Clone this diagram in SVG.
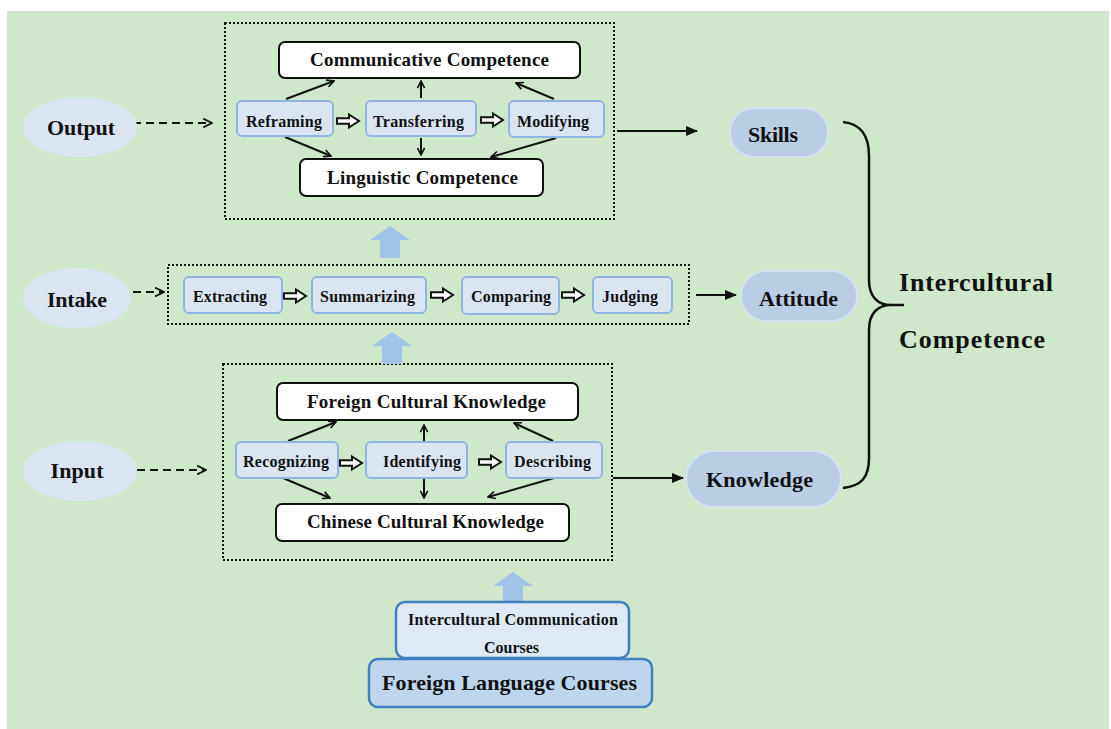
<svg xmlns="http://www.w3.org/2000/svg" width="1111" height="729" viewBox="0 0 1111 729">
<style>
text{font-family:"Liberation Serif","Times New Roman",serif;font-weight:bold;fill:#111;text-anchor:middle}
.dot{fill:none;stroke:#111;stroke-width:2;stroke-dasharray:2 2}
.comp{fill:#fff;stroke:#111;stroke-width:2}
.step{fill:#dbe5f2;stroke:#8fb5e3;stroke-width:2}
.pill{fill:#b9cde5;stroke:#d6e2f1;stroke-width:2}
.ell{fill:#dbe5f1}
.ln{stroke:#111;stroke-width:2;fill:none}
.dash{stroke:#111;stroke-width:2;fill:none;stroke-dasharray:8 5}
.big{fill:#9fc4e8}
.s15{font-size:16px}
.s18{font-size:19px}
.s21{font-size:22px}
</style>
<defs>
<marker id="tri" viewBox="0 0 12 10" refX="11" refY="5" markerWidth="12" markerHeight="10" markerUnits="userSpaceOnUse" orient="auto"><path d="M0,0 L12,5 L0,10 z" fill="#111"/></marker>
<marker id="chev" viewBox="0 0 10 10" refX="9" refY="5" markerWidth="9" markerHeight="9" markerUnits="userSpaceOnUse" orient="auto"><path d="M1,1 L9,5 L1,9" fill="none" stroke="#111" stroke-width="1.8"/></marker>
<marker id="chevL" viewBox="0 0 10 10" refX="9" refY="5" markerWidth="11" markerHeight="11" markerUnits="userSpaceOnUse" orient="auto"><path d="M1,1 L9,5 L1,9" fill="none" stroke="#111" stroke-width="1.6"/></marker>
<path id="ha" d="M0,-2.8 H12 V-6.5 L22,0 L12,6.5 V2.8 H0 Z" fill="#fff" stroke="#111" stroke-width="2"/>
<path id="up" d="M0,0 L20,14 L10,14 L10,32 L-10,32 L-10,14 L-20,14 Z"/>
</defs>

<rect x="0" y="0" width="1111" height="729" fill="#fff"/>
<rect x="7" y="11" width="1102" height="718" fill="#cfe7cb"/>

<g id="group-output">
<rect class="dot" x="225" y="23" width="389" height="196"/>
</g>
<g id="group-intake">
<rect class="dot" x="168" y="265" width="521" height="59"/>
</g>
<g id="group-input">
<rect class="dot" x="223" y="364" width="389" height="196"/>
</g>

<g id="connectors">
<path class="dash" d="M133,123 H212" marker-end="url(#chevL)"/>
<path class="dash" d="M133,292 H164" marker-end="url(#chevL)"/>
<path class="dash" d="M137,470 H206" marker-end="url(#chevL)"/>
<path class="ln" d="M286,99 L334,81" marker-end="url(#chev)"/>
<path class="ln" d="M285,137 L331,156" marker-end="url(#chev)"/>
<path class="ln" d="M421,98 L421,81" marker-end="url(#chev)"/>
<path class="ln" d="M421,138 L421,155" marker-end="url(#chev)"/>
<path class="ln" d="M554,99 L516,83" marker-end="url(#chev)"/>
<path class="ln" d="M556,138 L491,157" marker-end="url(#chev)"/>
<path class="ln" d="M288,441 L336,422" marker-end="url(#chev)"/>
<path class="ln" d="M283,478 L330,498" marker-end="url(#chev)"/>
<path class="ln" d="M424,442 L424,425" marker-end="url(#chev)"/>
<path class="ln" d="M424,479 L424,498" marker-end="url(#chev)"/>
<path class="ln" d="M553,441 L514,423" marker-end="url(#chev)"/>
<path class="ln" d="M554,478 L488,497" marker-end="url(#chev)"/>
<path class="ln" d="M617,131 H697" marker-end="url(#tri)"/>
<path class="ln" d="M696,295 H736" marker-end="url(#tri)"/>
<path class="ln" d="M613,478 H683" marker-end="url(#tri)"/>
<use href="#ha" x="337" y="121"/>
<use href="#ha" x="481" y="120"/>
<use href="#ha" x="284" y="296"/>
<use href="#ha" x="431" y="295"/>
<use href="#ha" x="562" y="295"/>
<use href="#ha" x="340" y="463"/>
<use href="#ha" x="479" y="462"/>
<use href="#up" class="big" x="390" y="226"/>
<use href="#up" class="big" x="392" y="332"/>
<use href="#up" class="big" x="513" y="572"/>
<path d="M843,122 C861,124 869,135 869,156 L869,280 C869,297 878,305 891,305 L904,305 M891,305 C878,305 869,313 869,330 L869,458 C869,478 861,486 843,488" fill="none" stroke="#111" stroke-width="2.5"/>
</g>

<g id="node-output"><ellipse class="ell" cx="80" cy="127" rx="57" ry="30"/><text class="s21" x="81" y="135" textLength="68" lengthAdjust="spacing">Output</text></g>
<g id="node-intake"><ellipse class="ell" cx="77" cy="298" rx="54" ry="30"/><text class="s21" x="77" y="307" textLength="60" lengthAdjust="spacing">Intake</text></g>
<g id="node-input"><ellipse class="ell" cx="80" cy="471" rx="57" ry="30"/><text class="s21" x="77" y="478" textLength="53" lengthAdjust="spacing">Input</text></g>

<g id="node-communicative"><rect class="comp" x="279" y="42" width="301" height="36" rx="6"/><text class="s18" x="429.5" y="66" textLength="239" lengthAdjust="spacing">Communicative Competence</text></g>
<g id="node-linguistic"><rect class="comp" x="300" y="159" width="243" height="37" rx="6"/><text class="s18" x="422.5" y="184" textLength="191" lengthAdjust="spacing">Linguistic Competence</text></g>
<g id="node-reframing"><rect class="step" x="237" y="101" width="96" height="35" rx="5"/><text class="s15" x="284" y="127" textLength="76" lengthAdjust="spacing">Reframing</text></g>
<g id="node-transferring"><rect class="step" x="366" y="101" width="110" height="35" rx="5"/><text class="s15" x="418.5" y="127" textLength="91" lengthAdjust="spacing">Transferring</text></g>
<g id="node-modifying"><rect class="step" x="509" y="101" width="95" height="36" rx="5"/><text class="s15" x="553" y="127" textLength="72" lengthAdjust="spacing">Modifying</text></g>

<g id="node-extracting"><rect class="step" x="184" y="277" width="98" height="36" rx="5"/><text class="s15" x="230" y="302" textLength="74" lengthAdjust="spacing">Extracting</text></g>
<g id="node-summarizing"><rect class="step" x="312" y="277" width="114" height="36" rx="5"/><text class="s15" x="367.5" y="302" textLength="95" lengthAdjust="spacing">Summarizing</text></g>
<g id="node-comparing"><rect class="step" x="462" y="277" width="97" height="37" rx="5"/><text class="s15" x="511" y="302" textLength="80" lengthAdjust="spacing">Comparing</text></g>
<g id="node-judging"><rect class="step" x="593" y="277" width="79" height="36" rx="5"/><text class="s15" x="630" y="302" textLength="56" lengthAdjust="spacing">Judging</text></g>

<g id="node-foreign-knowledge"><rect class="comp" x="277" y="383" width="301" height="37" rx="6"/><text class="s18" x="426.5" y="408" textLength="239" lengthAdjust="spacing">Foreign Cultural Knowledge</text></g>
<g id="node-chinese-knowledge"><rect class="comp" x="276" y="504" width="293" height="37" rx="6"/><text class="s18" x="425.5" y="528" textLength="237" lengthAdjust="spacing">Chinese Cultural Knowledge</text></g>
<g id="node-recognizing"><rect class="step" x="236" y="442" width="102" height="36" rx="5"/><text class="s15" x="286" y="467" textLength="86" lengthAdjust="spacing">Recognizing</text></g>
<g id="node-identifying"><rect class="step" x="366" y="442" width="101" height="36" rx="5"/><text class="s15" x="422" y="467" textLength="78" lengthAdjust="spacing">Identifying</text></g>
<g id="node-describing"><rect class="step" x="506" y="442" width="96" height="36" rx="5"/><text class="s15" x="552.5" y="467" textLength="77" lengthAdjust="spacing">Describing</text></g>

<g id="node-skills"><rect class="pill" x="730" y="108" width="98" height="49" rx="24"/><text class="s21" x="773" y="142" textLength="50" lengthAdjust="spacing">Skills</text></g>
<g id="node-attitude"><rect class="pill" x="741" y="271" width="116" height="50" rx="25"/><text class="s21" x="798.5" y="306" textLength="79" lengthAdjust="spacing">Attitude</text></g>
<g id="node-knowledge"><rect class="pill" x="686" y="451" width="155" height="56" rx="28"/><text class="s21" x="759.5" y="487" textLength="107" lengthAdjust="spacing">Knowledge</text></g>

<g id="node-intercultural-competence">
<text style="font-size:26px;text-anchor:start" x="899" y="291" textLength="154" lengthAdjust="spacing">Intercultural</text>
<text style="font-size:26px;text-anchor:start" x="899" y="348" textLength="146" lengthAdjust="spacing">Competence</text>
</g>

<g id="node-ic-courses"><rect x="396" y="602" width="233" height="56" rx="9" fill="#dfe9f5" stroke="#3f7fc0" stroke-width="2.5"/>
<text class="s15" x="513" y="625" textLength="210" lengthAdjust="spacing">Intercultural Communication</text>
<text class="s15" x="511.5" y="653" textLength="55" lengthAdjust="spacing">Courses</text></g>
<g id="node-fl-courses"><rect x="369" y="659" width="283" height="48" rx="9" fill="#bdd6ee" stroke="#3f7fc0" stroke-width="2.5"/>
<text class="s21" x="509.5" y="690" textLength="255" lengthAdjust="spacing">Foreign Language Courses</text></g>
</svg>
